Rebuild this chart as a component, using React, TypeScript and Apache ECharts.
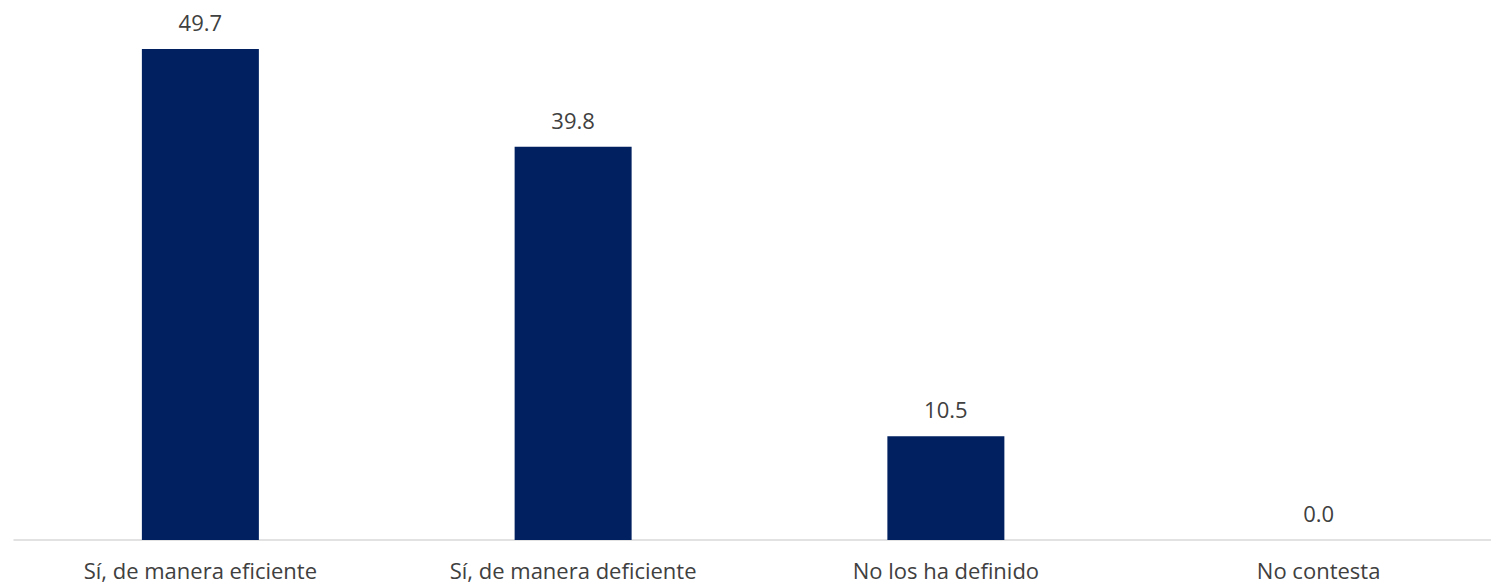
import React, { useEffect, useRef } from "react";
import * as echarts from "echarts";

const categories = [
  "Sí, de manera eficiente",
  "Sí, de manera deficiente",
  "No los ha definido",
  "No contesta",
];
const values = [49.7, 39.8, 10.5, 0.0];

export default function App() {
  const ref = useRef<HTMLDivElement>(null);
  useEffect(() => {
    if (!ref.current) return;
    const chart = echarts.init(ref.current, null, { renderer: "svg" });
    chart.setOption({
      animation: false,
      grid: { left: 14, right: 0, top: 46, bottom: 46, containLabel: false },
      xAxis: {
        type: "category",
        data: categories,
        axisLine: { show: true, lineStyle: { color: "#d9d9d9", width: 1.5 } },
        axisTick: { show: false },
        axisLabel: {
          color: "#404040",
          fontFamily: "'Open Sans', sans-serif",
          fontSize: 22,
          lineHeight: 22,
          margin: 19,
          interval: 0,
        },
      },
      yAxis: {
        type: "value",
        min: 0,
        max: 50,
        show: false,
        splitLine: { show: false },
      },
      series: [
        {
          type: "bar",
          data: values,
          barWidth: 117,
          itemStyle: { color: "#002060" },
          label: {
            show: true,
            position: "top",
            distance: 16,
            color: "#404040",
            fontFamily: "'Open Sans', sans-serif",
            fontSize: 22,
            formatter: (p: any) => Number(p.value).toFixed(1),
          },
        },
      ],
    });
    return () => chart.dispose();
  }, []);
  return (
    <div style={{ position: "fixed", left: 0, top: 0, width: 1491, height: 586, overflow: "hidden", background: "#fff" }}>
      <div ref={ref} style={{ width: 1505, height: 586 }} />
    </div>
  );
}
